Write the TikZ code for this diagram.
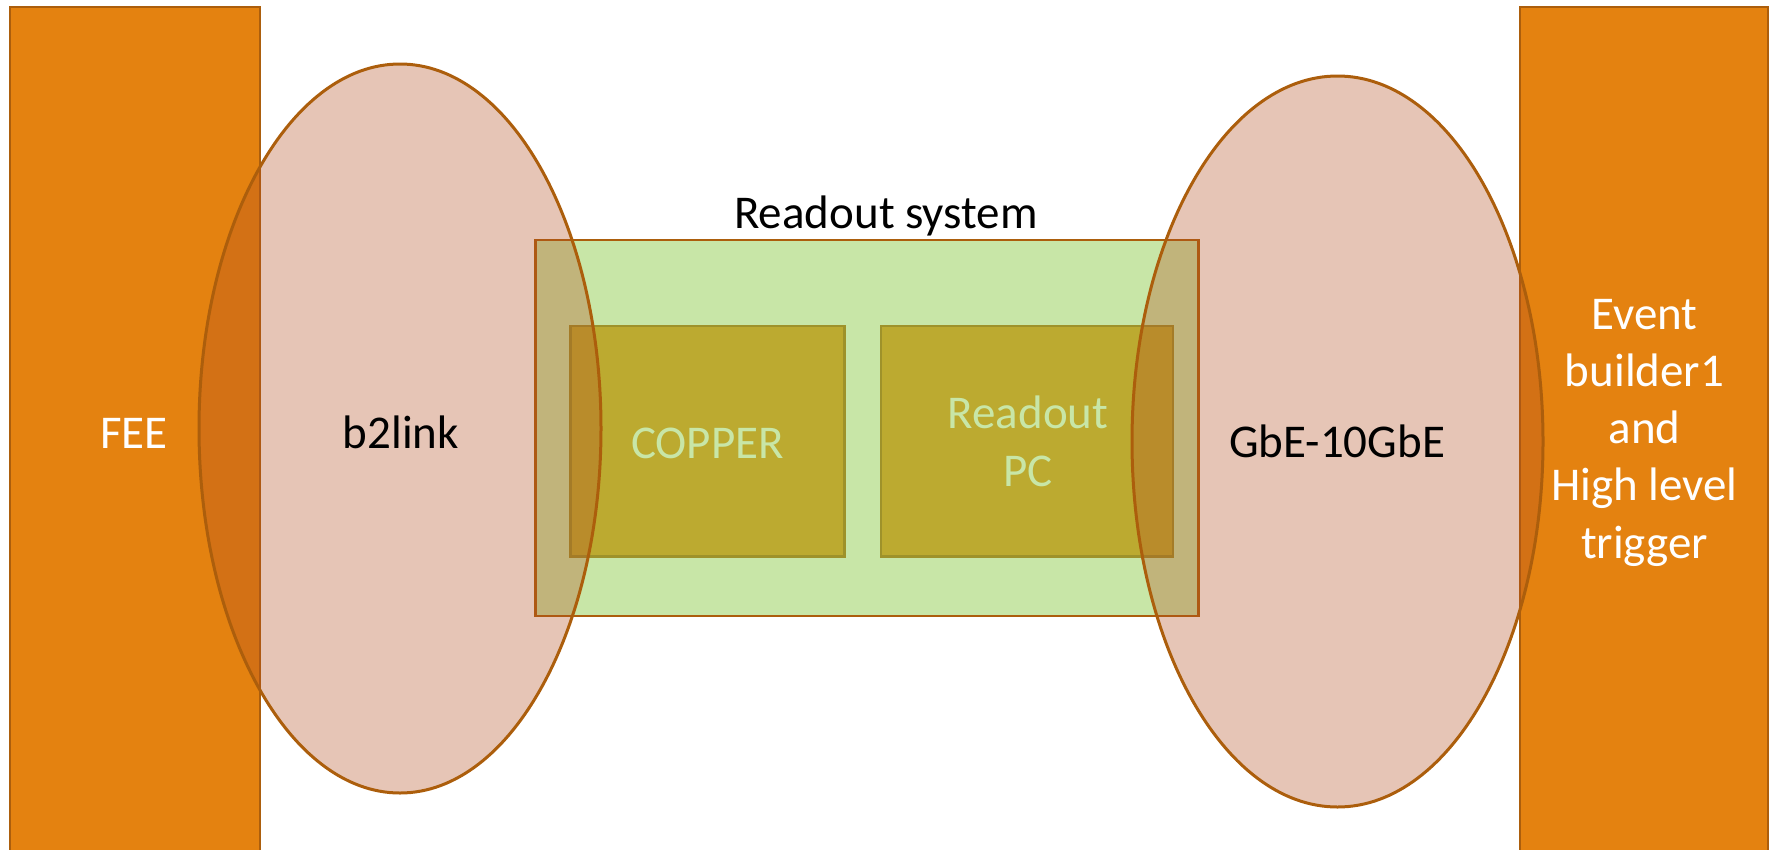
\documentclass[tikz,border=0pt]{standalone}
\usepackage{fontspec}
\setmainfont{Carlito}
\usetikzlibrary{shapes.geometric}

\definecolor{orangefill}{RGB}{228,130,16}
\definecolor{brownline}{RGB}{172,94,12}
\definecolor{linkfill}{RGB}{179,79,34}
\definecolor{greenfill}{RGB}{200,230,167}
\definecolor{olivefill}{RGB}{188,170,48}
\definecolor{oliveline}{RGB}{158,146,42}
\definecolor{paletext}{RGB}{200,230,167}

\begin{document}
\begin{tikzpicture}[x=1pt,y=-1pt,
  endbox/.style={rectangle,fill=orangefill,draw=brownline,line width=2.5pt,inner sep=0pt},
  sysbox/.style={rectangle,fill=greenfill,draw=brownline,line width=2.5pt,inner sep=0pt},
  unitbox/.style={rectangle,fill=olivefill,draw=oliveline,line width=2.5pt,inner sep=0pt},
  linkoval/.style={ellipse,fill=linkfill,fill opacity=0.33,draw=brownline,draw opacity=1,line width=3pt,inner sep=0pt},
  lbl/.style={inner sep=0pt,anchor=base,align=center,font=\fontsize{47}{57.2}\selectfont}
]
\useasboundingbox (0,0) rectangle (1777,849);
\clip (0,0) rectangle (1777,849);

% front-end and event-builder blocks
\node[endbox,minimum width=250,minimum height=853] (fee) at (135,433.5) {};
\node[endbox,minimum width=248,minimum height=853] (evb) at (1644,433.5) {};

% readout system with its two units
\node[sysbox,minimum width=663,minimum height=376] (ros) at (867,428) {};
\node[unitbox,minimum width=274,minimum height=230.5] (copper) at (707.5,441.25) {};
\node[unitbox,minimum width=292,minimum height=230.5] (rpc) at (1027,441.25) {};

% links between the blocks
\node[linkoval,minimum width=402,minimum height=729] (b2link) at (400,428.5) {};
\node[linkoval,minimum width=411,minimum height=731] (gbe) at (1337.5,441.5) {};

% labels (multi-line labels sit on the baseline of their last line)
\node[lbl,text=white] (feetxt) at (134,448) {FEE};
\node[lbl,text=black] (b2linktxt) at (401,448) {b2link};
\node[lbl,text=black] (rostxt) at (886,228) {Readout system};
\node[lbl,text=paletext] (coppertxt) at (707.5,458) {COPPER};
\node[lbl,text=paletext] (rpctxt) at (1028,486) {Readout\\PC};
\node[lbl,text=black] (gbetxt) at (1337,457.5) {GbE-10GbE};
\node[lbl,text=white] (evbtxt) at (1644.5,558) {Event\\builder1\\and\\High level\\trigger};
\end{tikzpicture}
\end{document}
